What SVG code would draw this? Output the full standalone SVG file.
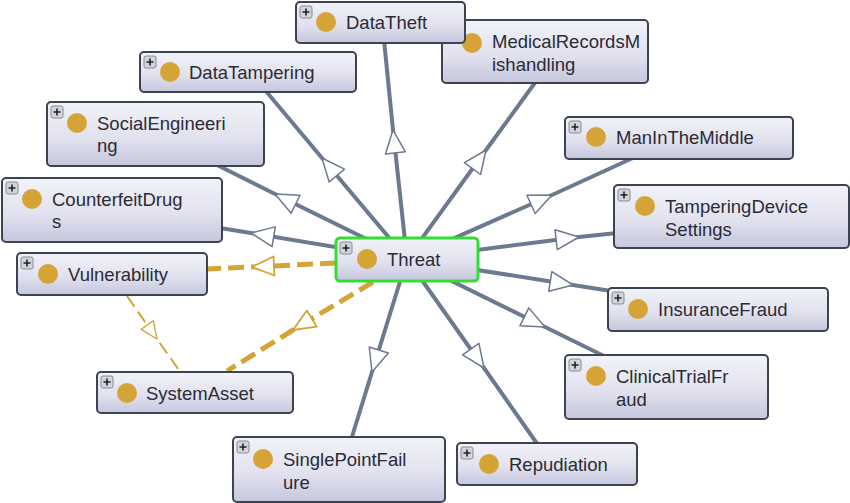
<svg xmlns="http://www.w3.org/2000/svg" width="850" height="503" viewBox="0 0 850 503">
<defs>
<linearGradient id="nodeGrad" x1="0" y1="0" x2="0" y2="1">
<stop offset="0" stop-color="#f2f2f9"/>
<stop offset="0.55" stop-color="#e2e2ef"/>
<stop offset="1" stop-color="#c6c6de"/>
</linearGradient>
<marker id="arrGray" viewBox="-26 -12 28 24" markerWidth="28" markerHeight="24" refX="0" refY="0" orient="auto" markerUnits="userSpaceOnUse">
<path d="M0,0 L-23,-10 L-23,10 Z" fill="#ffffff" stroke="#6b7a8f" stroke-width="1.5" stroke-linejoin="round"/>
</marker>
<marker id="arrGold" viewBox="-26 -12 28 24" markerWidth="28" markerHeight="24" refX="0" refY="0" orient="auto" markerUnits="userSpaceOnUse">
<path d="M0,0 L-22,-9.5 L-22,9.5 Z" fill="#ffffff" stroke="#d4a437" stroke-width="1.8" stroke-linejoin="round"/>
</marker>
<marker id="arrGoldSmall" viewBox="-20 -10 22 20" markerWidth="22" markerHeight="20" refX="0" refY="0" orient="auto" markerUnits="userSpaceOnUse">
<path d="M0,0 L-17,-7.5 L-17,7.5 Z" fill="#ffffff" stroke="#d4a437" stroke-width="1.3" stroke-linejoin="round"/>
</marker>
</defs>
<style>
.box{fill:url(#nodeGrad);stroke:#3c4452;stroke-width:2}
.sel{fill:url(#nodeGrad);stroke:#33dd33;stroke-width:3}
.ico{fill:#d4d4dc;stroke:#8a8a96;stroke-width:1}
.plus{stroke:#222;stroke-width:1.6}
.dot{fill:#d4a437}
.lbl{font-family:"Liberation Sans",Arial,sans-serif;font-size:18.5px;fill:#2b2b35}
.edge{fill:none;stroke:#6b7a8f;stroke-width:4;marker-mid:url(#arrGray)}
.dash{fill:none;stroke:#d4a437;stroke-width:5;stroke-dasharray:16 7;marker-mid:url(#arrGold)}
.dashThin{fill:none;stroke:#d4a437;stroke-width:2;stroke-dasharray:13 6;marker-mid:url(#arrGoldSmall)}
</style>
<rect width="850" height="503" fill="#ffffff"/>
<g id="connectors">
<path class="edge" d="M407,259 L393,130 L384,40"/>
<path class="edge" d="M407,259 L486,150 L537,80"/>
<path class="edge" d="M407,259 L322,158 L265,90"/>
<path class="edge" d="M407,259 L275,194 L215,164"/>
<path class="edge" d="M407,259 L251,233 L220,228"/>
<path class="edge" d="M407,259 L552,195 L635,157"/>
<path class="edge" d="M407,259 L579,237 L617,233"/>
<path class="edge" d="M407,259 L573,285 L611,291"/>
<path class="edge" d="M407,259 L545,327 L604,356"/>
<path class="edge" d="M407,259 L484,368 L538,445"/>
<path class="edge" d="M407,259 L372,372 L351,440"/>
<path class="dash" d="M336,263 L252,267 L207,269"/>
<path class="dash" d="M373,282 L293,330 L227,371"/>
<path class="dashThin" d="M127,296 L157,339 L181,373"/>
</g>
<g id="MedicalRecordsMishandling" transform="translate(442,20)">
<rect class="box" x="0" y="0" width="206" height="63" rx="4"/>
<rect class="ico" x="4" y="4" width="12" height="12" rx="2"/>
<path class="plus" d="M10,6.5 V13.5 M6.5,10 H13.5"/>
<circle class="dot" cx="30" cy="23" r="10"/>
<text class="lbl" x="50" y="28">MedicalRecordsM</text>
<text class="lbl" x="50" y="51">ishandling</text>
</g>
<g id="DataTheft" transform="translate(296,2)">
<rect class="box" x="0" y="0" width="169" height="41" rx="4"/>
<rect class="ico" x="4" y="4" width="12" height="12" rx="2"/>
<path class="plus" d="M10,6.5 V13.5 M6.5,10 H13.5"/>
<circle class="dot" cx="30" cy="20" r="10"/>
<text class="lbl" x="50" y="27">DataTheft</text>
</g>
<g id="DataTampering" transform="translate(140,52)">
<rect class="box" x="0" y="0" width="216" height="40" rx="4"/>
<rect class="ico" x="4" y="4" width="12" height="12" rx="2"/>
<path class="plus" d="M10,6.5 V13.5 M6.5,10 H13.5"/>
<circle class="dot" cx="30" cy="20" r="10"/>
<text class="lbl" x="49" y="27">DataTampering</text>
</g>
<g id="SocialEngineering" transform="translate(47,102)">
<rect class="box" x="0" y="0" width="217" height="64" rx="4"/>
<rect class="ico" x="4" y="4" width="12" height="12" rx="2"/>
<path class="plus" d="M10,6.5 V13.5 M6.5,10 H13.5"/>
<circle class="dot" cx="30" cy="21" r="10"/>
<text class="lbl" x="50" y="28">SocialEngineeri</text>
<text class="lbl" x="50" y="50">ng</text>
</g>
<g id="CounterfeitDrugs" transform="translate(2,178)">
<rect class="box" x="0" y="0" width="220" height="64" rx="4"/>
<rect class="ico" x="4" y="4" width="12" height="12" rx="2"/>
<path class="plus" d="M10,6.5 V13.5 M6.5,10 H13.5"/>
<circle class="dot" cx="30" cy="21" r="10"/>
<text class="lbl" x="50" y="28">CounterfeitDrug</text>
<text class="lbl" x="50" y="50">s</text>
</g>
<g id="Vulnerability" transform="translate(17,253)">
<rect class="box" x="0" y="0" width="190" height="42" rx="4"/>
<rect class="ico" x="4" y="4" width="12" height="12" rx="2"/>
<path class="plus" d="M10,6.5 V13.5 M6.5,10 H13.5"/>
<circle class="dot" cx="31" cy="21" r="10"/>
<text class="lbl" x="51" y="28">Vulnerability</text>
</g>
<g id="SystemAsset" transform="translate(97,372)">
<rect class="box" x="0" y="0" width="196" height="41" rx="4"/>
<rect class="ico" x="4" y="4" width="12" height="12" rx="2"/>
<path class="plus" d="M10,6.5 V13.5 M6.5,10 H13.5"/>
<circle class="dot" cx="30" cy="21" r="10"/>
<text class="lbl" x="49" y="28">SystemAsset</text>
</g>
<g id="Threat" transform="translate(336,238)">
<rect class="sel" x="0" y="0" width="142" height="43" rx="4"/>
<rect class="ico" x="4" y="4" width="12" height="12" rx="2"/>
<path class="plus" d="M10,6.5 V13.5 M6.5,10 H13.5"/>
<circle class="dot" cx="31" cy="21" r="10"/>
<text class="lbl" x="51" y="28">Threat</text>
</g>
<g id="ManInTheMiddle" transform="translate(565,117)">
<rect class="box" x="0" y="0" width="228" height="42" rx="4"/>
<rect class="ico" x="4" y="4" width="12" height="12" rx="2"/>
<path class="plus" d="M10,6.5 V13.5 M6.5,10 H13.5"/>
<circle class="dot" cx="31" cy="20" r="10"/>
<text class="lbl" x="51" y="27">ManInTheMiddle</text>
</g>
<g id="TamperingDeviceSettings" transform="translate(614,185)">
<rect class="box" x="0" y="0" width="235" height="63" rx="4"/>
<rect class="ico" x="4" y="4" width="12" height="12" rx="2"/>
<path class="plus" d="M10,6.5 V13.5 M6.5,10 H13.5"/>
<circle class="dot" cx="31" cy="21" r="10"/>
<text class="lbl" x="51" y="28">TamperingDevice</text>
<text class="lbl" x="51" y="51">Settings</text>
</g>
<g id="InsuranceFraud" transform="translate(608,288)">
<rect class="box" x="0" y="0" width="220" height="43" rx="4"/>
<rect class="ico" x="4" y="4" width="12" height="12" rx="2"/>
<path class="plus" d="M10,6.5 V13.5 M6.5,10 H13.5"/>
<circle class="dot" cx="30" cy="21" r="10"/>
<text class="lbl" x="50" y="28">InsuranceFraud</text>
</g>
<g id="ClinicalTrialFraud" transform="translate(565,355)">
<rect class="box" x="0" y="0" width="203" height="64" rx="4"/>
<rect class="ico" x="4" y="4" width="12" height="12" rx="2"/>
<path class="plus" d="M10,6.5 V13.5 M6.5,10 H13.5"/>
<circle class="dot" cx="31" cy="21" r="10"/>
<text class="lbl" x="51" y="28">ClinicalTrialFr</text>
<text class="lbl" x="51" y="51">aud</text>
</g>
<g id="SinglePointFailure" transform="translate(233,437)">
<rect class="box" x="0" y="0" width="212" height="65" rx="4"/>
<rect class="ico" x="4" y="4" width="12" height="12" rx="2"/>
<path class="plus" d="M10,6.5 V13.5 M6.5,10 H13.5"/>
<circle class="dot" cx="30" cy="22" r="10"/>
<text class="lbl" x="50" y="29">SinglePointFail</text>
<text class="lbl" x="50" y="52">ure</text>
</g>
<g id="Repudiation" transform="translate(457,443)">
<rect class="box" x="0" y="0" width="180" height="42" rx="4"/>
<rect class="ico" x="4" y="4" width="12" height="12" rx="2"/>
<path class="plus" d="M10,6.5 V13.5 M6.5,10 H13.5"/>
<circle class="dot" cx="32" cy="21" r="10"/>
<text class="lbl" x="52" y="28">Repudiation</text>
</g>
</svg>
